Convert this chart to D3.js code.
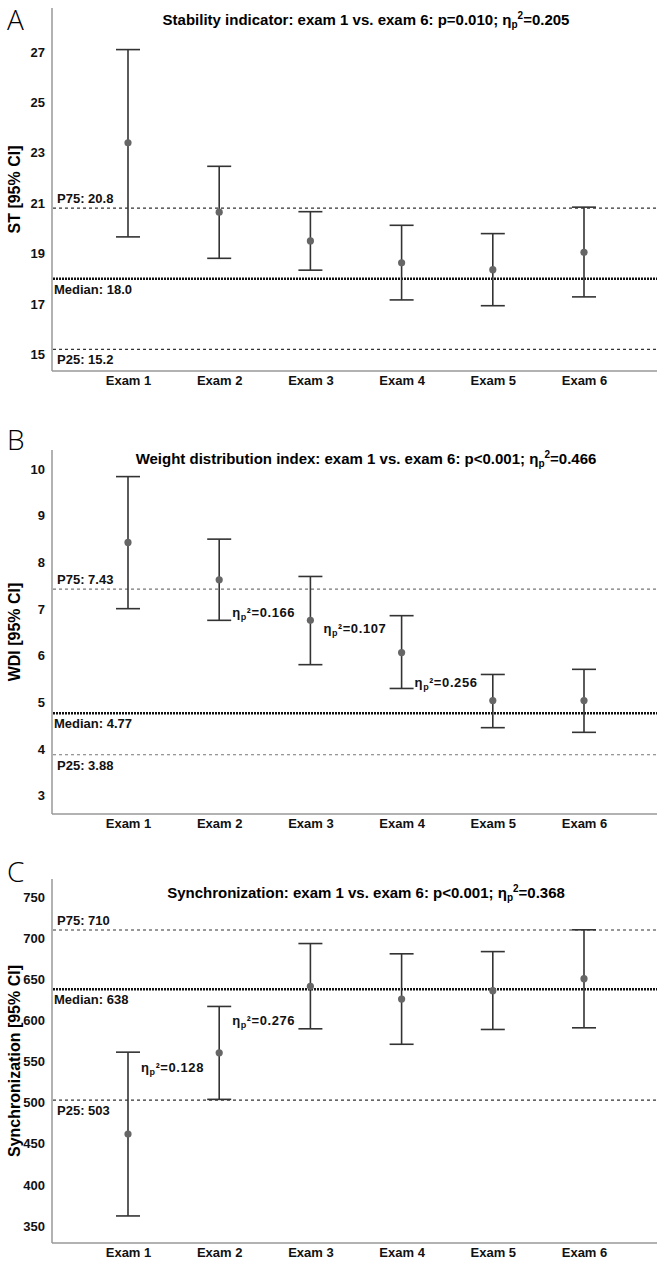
<!DOCTYPE html>
<html>
<head>
<meta charset="utf-8">
<script src="https://cdn.jsdelivr.net/npm/d3@7"></script>
<style>
  body { margin: 0; background: #fff; }
  svg { display: block; }
  text { font-family: "Liberation Sans Narrow", "Arial Narrow", "Liberation Sans", Arial, sans-serif; }
</style>
</head>
<body>
<div id="chart"></div>
<script>
// Data

var exams = ["Exam 1", "Exam 2", "Exam 3", "Exam 4", "Exam 5", "Exam 6"];

// A - Stability indicator
var stMean = [23.39, 20.64, 19.50, 18.63, 18.36, 19.05];
var stLow  = [19.66, 18.81, 18.34, 17.16, 16.93, 17.28];
var stHigh = [27.09, 22.46, 20.66, 20.12, 19.79, 20.84];
var stTicks = [15, 17, 19, 21, 23, 25, 27];
var stRefs = [20.8, 18.0, 15.2];
var stRefLabels = ["P75: 20.8", "Median: 18.0", "P25: 15.2"];

// B - Weight distribution index
var wdiMean = [8.43, 7.63, 6.76, 6.07, 5.04, 5.04];
var wdiLow  = [7.01, 6.76, 5.81, 5.30, 4.46, 4.36];
var wdiHigh = [9.84, 8.50, 7.70, 6.86, 5.60, 5.71];
var wdiTicks = [3, 4, 5, 6, 7, 8, 9, 10];
var wdiRefs = [7.43, 4.77, 3.88];
var wdiRefLabels = ["P75: 7.43", "Median: 4.77", "P25: 3.88"];
var wdiEta = ["0.166", "0.107", "0.256"];
var wdiEtaExam = [1, 2, 3];
var wdiEtaAt = [6.94, 6.59, 5.43];

// C - Synchronization
var syncMean = [461.8, 560.6, 641.5, 626.0, 636.2, 650.8];
var syncLow  = [362.2, 504.0, 589.8, 571.0, 589.0, 591.0];
var syncHigh = [561.4, 617.0, 693.5, 681.0, 683.7, 710.2];
var syncTicks = [350, 400, 450, 500, 550, 600, 650, 700, 750];
var syncRefs = [710, 638, 503];
var syncRefLabels = ["P75: 710", "Median: 638", "P25: 503"];
var syncEta = ["0.128", "0.276"];
var syncEtaExam = [0, 1];
var syncEtaAt = [543, 600];

// Layout

var width = 657, height = 1262;
var left = 52, right = 657;

var svg = d3.select("#chart").append("svg")
    .attr("width", width)
    .attr("height", height);

var x = d3.scalePoint().domain(exams).range([128, 584]);

var panels = [
  {letter: "A", top: 8, bottom: 371, domain: [14.34, 28.74], letterY: 30,
   title: ["Stability indicator: exam 1 vs. exam 6: p=0.010;  η", "0.205"], titleY: 25, refColor: "#333",
   mean: stMean, low: stLow, high: stHigh, ticks: stTicks, refs: stRefs, refLabels: stRefLabels,
   ylabel: "ST [95% CI]", eta: [], etaExam: [], etaAt: []},
  {letter: "B", top: 450, bottom: 814, domain: [2.61, 10.41], letterY: 450,
   title: ["Weight distribution index: exam 1 vs. exam 6: p<0.001; η", "0.466"], titleY: 464, refColor: "#777",
   mean: wdiMean, low: wdiLow, high: wdiHigh, ticks: wdiTicks, refs: wdiRefs, refLabels: wdiRefLabels,
   ylabel: "WDI [95% CI]", eta: wdiEta, etaExam: wdiEtaExam, etaAt: wdiEtaAt},
  {letter: "C", top: 879, bottom: 1243, domain: [329.3, 772], letterY: 882,
   title: ["Synchronization: exam 1 vs. exam 6: p<0.001; η", "0.368"], titleY: 898, refColor: "#333",
   mean: syncMean, low: syncLow, high: syncHigh, ticks: syncTicks, refs: syncRefs, refLabels: syncRefLabels,
   ylabel: "Synchronization [95% CI]", eta: syncEta, etaExam: syncEtaExam, etaAt: syncEtaAt}
];

panels.forEach(function(p) {
  var y = d3.scaleLinear().domain(p.domain).range([p.bottom, p.top]);
  var g = svg.append("g");

  // panel letter
  g.append("text")
      .attr("x", 7)
      .attr("y", p.letterY)
      .style("font-family", "'Open Sans', 'Noto Sans', sans-serif")
      .style("font-size", "28px")
      .style("font-weight", "300")
      .text(p.letter);

  // title
  var t = g.append("text")
      .attr("x", 366)
      .attr("y", p.titleY)
      .attr("text-anchor", "middle")
      .style("font-size", "15px")
      .style("font-weight", "bold");
  t.append("tspan").text(p.title[0]);
  t.append("tspan").attr("dy", 3).style("font-size", "10px").text("p");
  t.append("tspan").attr("dy", -9).style("font-size", "10px").text("2");
  t.append("tspan").attr("dy", 6).text("=" + p.title[1]);

  // y axis labels
  var yAxis = d3.axisLeft(y).tickValues(p.ticks).tickSize(0).tickPadding(7);
  g.append("g")
      .attr("transform", "translate(" + left + ",0)")
      .call(yAxis)
      .call(function(a) { a.select(".domain").remove(); })
      .selectAll("text")
      .style("font-family", "'Liberation Sans Narrow', 'Arial Narrow', 'Liberation Sans', sans-serif")
      .style("font-size", "13px")
      .style("font-weight", "bold")
      .attr("fill", "#111");

  // x axis labels
  var xAxis = d3.axisBottom(x).tickSize(0).tickPadding(5);
  g.append("g")
      .attr("transform", "translate(0," + p.bottom + ")")
      .call(xAxis)
      .call(function(a) { a.select(".domain").remove(); })
      .selectAll("text")
      .style("font-family", "'Liberation Sans Narrow', 'Arial Narrow', 'Liberation Sans', sans-serif")
      .style("font-size", "13px")
      .style("font-weight", "bold")
      .attr("fill", "#111");

  // axis lines
  g.append("line")
      .attr("x1", left).attr("x2", left)
      .attr("y1", p.top).attr("y2", p.bottom)
      .attr("stroke", "#999").attr("stroke-width", 1.5);
  g.append("line")
      .attr("x1", left).attr("x2", right)
      .attr("y1", p.bottom).attr("y2", p.bottom)
      .attr("stroke", "#999").attr("stroke-width", 1.5);

  // y axis title
  g.append("text")
      .attr("transform", "translate(20," + ((p.top + p.bottom) / 2) + ") rotate(-90)")
      .attr("text-anchor", "middle")
      .style("font-size", "16px")
      .style("font-weight", "bold")
      .text(p.ylabel);

  // reference lines: P75, median, P25
  p.refs.forEach(function(v, i) {
    var isMed = i === 1;
    g.append("line")
        .attr("x1", left + 1).attr("x2", right)
        .attr("y1", y(v)).attr("y2", y(v))
        .attr("stroke", isMed ? "#111" : p.refColor)
        .attr("stroke-width", isMed ? 2.5 : 1.2)
        .attr("stroke-dasharray", isMed ? "2,1" : "3,3");
    g.append("text")
        .attr("x", isMed ? 54 : 57)
        .attr("y", i === 0 ? y(v) - 5 : y(v) + 15)
        .style("font-size", "13px")
        .style("font-weight", "bold")
        .attr("fill", "#111")
        .text(p.refLabels[i]);
  });

  // error bars
  var bars = g.selectAll(".bar").data(exams).enter().append("g").attr("class", "bar");
  bars.append("line")
      .attr("x1", function(d) { return x(d); })
      .attr("x2", function(d) { return x(d); })
      .attr("y1", function(d, i) { return y(p.high[i]); })
      .attr("y2", function(d, i) { return y(p.low[i]); })
      .attr("stroke", "#333").attr("stroke-width", 1.6);
  bars.append("line")
      .attr("x1", function(d) { return x(d) - 12; })
      .attr("x2", function(d) { return x(d) + 12; })
      .attr("y1", function(d, i) { return y(p.high[i]); })
      .attr("y2", function(d, i) { return y(p.high[i]); })
      .attr("stroke", "#333").attr("stroke-width", 1.6);
  bars.append("line")
      .attr("x1", function(d) { return x(d) - 12; })
      .attr("x2", function(d) { return x(d) + 12; })
      .attr("y1", function(d, i) { return y(p.low[i]); })
      .attr("y2", function(d, i) { return y(p.low[i]); })
      .attr("stroke", "#333").attr("stroke-width", 1.6);
  bars.append("circle")
      .attr("cx", function(d) { return x(d); })
      .attr("cy", function(d, i) { return y(p.mean[i]); })
      .attr("r", 3.6)
      .attr("fill", "#666");

  // effect size annotations between exams
  p.eta.forEach(function(s, i) {
    var a = g.append("text")
        .attr("x", x(exams[p.etaExam[i]]) + 13)
        .attr("y", y(p.etaAt[i]) + 5)
        .style("font-family", "'Liberation Sans', Arial, sans-serif")
        .style("font-size", "13px")
        .style("font-weight", "bold")
        .style("letter-spacing", "0.6px")
        .attr("fill", "#111");
    a.append("tspan").text("η");
    a.append("tspan").attr("dy", 3).style("font-size", "9px").text("p");
    a.append("tspan").attr("dy", -3).style("font-size", "12px").text("²");
    a.append("tspan").text("=" + s);
  });
});
</script>
</body>
</html>
